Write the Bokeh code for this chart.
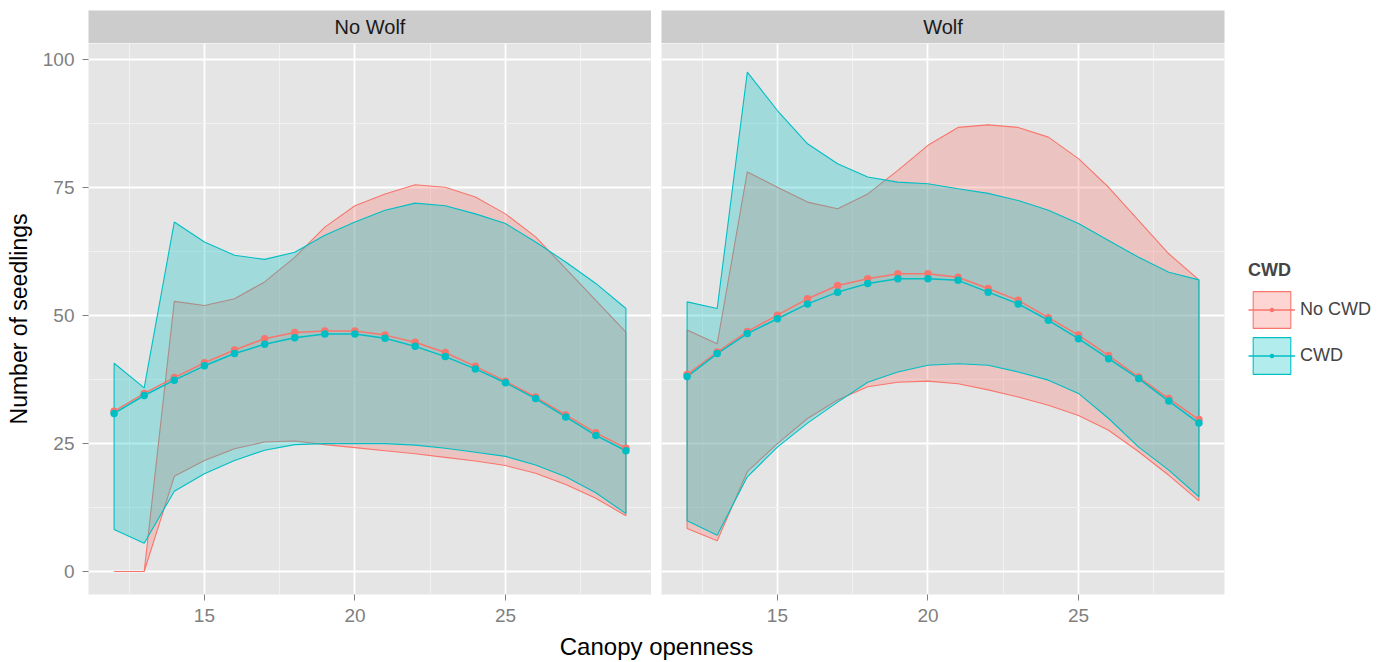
from bokeh.plotting import figure
from bokeh.layouts import column, row
from bokeh.models import Range1d, FixedTicker, Label, Legend, LegendItem
from bokeh.embed import file_html
from bokeh.resources import INLINE

FONT = "Liberation Sans"
RED = "#F8766D"
TEAL = "#00BFC4"

# ---------------- data ----------------
canopy = list(range(12, 30))
panels = ["No Wolf", "Wolf"]
groups = ["No CWD", "CWD"]

# No Wolf panel
nowolf_nocwd_mean = [31.3, 34.8, 37.9, 40.8, 43.3, 45.5, 46.7, 47.0, 47.0, 46.2, 44.8, 42.8, 40.1, 37.2, 34.1, 30.6, 27.1, 24.1]
nowolf_nocwd_upper = [0.0, 0.0, 52.8, 52.0, 53.3, 56.6, 61.4, 67.3, 71.5, 73.8, 75.6, 75.1, 73.2, 69.9, 65.4, 59.2, 53.0, 46.8]
nowolf_nocwd_lower = [0.0, 0.0, 18.6, 21.7, 24.0, 25.3, 25.5, 24.8, 24.2, 23.6, 23.0, 22.3, 21.6, 20.7, 19.2, 17.0, 14.3, 10.9]
nowolf_cwd_mean = [30.9, 34.4, 37.4, 40.2, 42.6, 44.4, 45.7, 46.4, 46.4, 45.6, 44.0, 42.0, 39.6, 36.9, 33.8, 30.2, 26.6, 23.6]
nowolf_cwd_upper = [40.7, 35.9, 68.3, 64.4, 61.8, 61.0, 62.4, 65.7, 68.3, 70.6, 72.0, 71.5, 69.9, 68.0, 64.4, 60.5, 56.3, 51.4]
nowolf_cwd_lower = [8.2, 5.5, 15.7, 19.1, 21.7, 23.7, 24.8, 25.0, 25.0, 25.0, 24.7, 24.1, 23.3, 22.5, 20.8, 18.5, 15.4, 11.3]

# Wolf panel
wolf_nocwd_mean = [38.5, 42.9, 46.9, 50.1, 53.3, 55.9, 57.2, 58.2, 58.2, 57.5, 55.3, 53.0, 49.6, 46.2, 42.2, 38.0, 33.8, 29.7]
wolf_nocwd_upper = [47.2, 44.5, 78.1, 75.1, 72.2, 70.9, 73.8, 78.4, 83.3, 86.8, 87.3, 86.8, 84.9, 80.7, 75.1, 68.6, 62.1, 57.0]
wolf_nocwd_lower = [8.4, 6.0, 19.5, 25.0, 29.9, 33.5, 36.1, 37.0, 37.2, 36.7, 35.5, 34.1, 32.5, 30.5, 27.6, 23.4, 18.8, 13.8]
wolf_cwd_mean = [38.1, 42.6, 46.5, 49.4, 52.3, 54.6, 56.3, 57.2, 57.2, 56.9, 54.6, 52.3, 49.1, 45.5, 41.6, 37.7, 33.3, 29.0]
wolf_cwd_upper = [52.7, 51.4, 97.6, 90.1, 83.6, 79.7, 77.1, 76.1, 75.8, 74.8, 73.9, 72.5, 70.6, 68.0, 64.7, 61.4, 58.5, 57.0]
wolf_cwd_lower = [9.9, 7.1, 18.5, 24.3, 29.0, 33.1, 37.0, 39.0, 40.3, 40.6, 40.3, 39.0, 37.4, 34.8, 29.9, 24.3, 19.8, 14.6]

x_ticks = [15, 20, 25]
x_minor = [12.5, 17.5, 22.5, 27.5]
y_ticks = [0, 25, 50, 75, 100]
y_minor = [12.5, 37.5, 62.5, 87.5]

series = {
    "No Wolf": [
        ("No CWD", RED, nowolf_nocwd_mean, nowolf_nocwd_lower, nowolf_nocwd_upper),
        ("CWD", TEAL, nowolf_cwd_mean, nowolf_cwd_lower, nowolf_cwd_upper),
    ],
    "Wolf": [
        ("No CWD", RED, wolf_nocwd_mean, wolf_nocwd_lower, wolf_nocwd_upper),
        ("CWD", TEAL, wolf_cwd_mean, wolf_cwd_lower, wolf_cwd_upper),
    ],
}

# ---------------- layout constants ----------------
FW, FH = 563, 551
LEFT_B, GAP, RIGHT_B = 88, 10, 156
BOTTOM_B = 36

x_range = Range1d(11.15, 29.85)
y_range = Range1d(-4.5, 103.2)


def make_strip(text, left_b, right_b):
    s = figure(frame_width=FW, frame_height=33, min_border_left=left_b, min_border_right=right_b,
               min_border_top=10, min_border_bottom=0, x_range=(0, 1), y_range=(0, 1),
               x_axis_location=None, y_axis_location=None, toolbar_location=None,
               output_backend="svg", background_fill_color="#CCCCCC",
               border_fill_color="white", outline_line_color=None)
    s.grid.visible = False
    s.add_layout(Label(x=0.5, y=0.5, text=text, text_align="center", text_baseline="middle",
                       text_font=FONT, text_font_size="20px", text_color="#1A1A1A"))
    return s


def make_panel(name, left_b, right_b, show_y):
    p = figure(frame_width=FW, frame_height=FH, min_border_left=left_b, min_border_right=right_b,
               min_border_top=0, min_border_bottom=BOTTOM_B, x_range=x_range, y_range=y_range,
               y_axis_location="left" if show_y else None, toolbar_location=None,
               output_backend="svg", background_fill_color="#E5E5E5",
               border_fill_color="white", outline_line_color=None)
    for g in p.xgrid:
        g.ticker = FixedTicker(ticks=x_ticks, minor_ticks=x_minor)
    for g in p.ygrid:
        g.ticker = FixedTicker(ticks=y_ticks, minor_ticks=y_minor)
    p.grid.grid_line_color = "white"
    p.grid.grid_line_width = 1.8
    p.grid.minor_grid_line_color = "#F2F2F2"
    p.grid.minor_grid_line_width = 0.9
    p.xaxis.ticker = FixedTicker(ticks=x_ticks)
    axes = list(p.xaxis) + (list(p.yaxis) if show_y else [])
    if show_y:
        p.yaxis.ticker = FixedTicker(ticks=y_ticks)
        p.yaxis.axis_label = "Number of seedlings"
    for ax in axes:
        ax.axis_line_color = None
        ax.major_tick_line_color = "#7F7F7F"
        ax.major_tick_in = 0
        ax.major_tick_out = 6
        ax.minor_tick_line_color = None
        ax.major_label_text_font = FONT
        ax.major_label_text_font_size = "19px"
        ax.major_label_text_color = "#7F7F7F"
        ax.major_label_standoff = 8
        ax.axis_label_text_font = FONT
        ax.axis_label_text_font_size = "23px"
        ax.axis_label_text_font_style = "normal"
        ax.axis_label_text_color = "black"
        ax.axis_label_standoff = 8

    rends = {}
    # ribbons
    for grp, col, mean, lo, up in series[name]:
        xs = canopy + canopy[::-1]
        ys = up + lo[::-1]
        r = p.patch(xs, ys, fill_color=col, fill_alpha=0.3, line_color=col, line_width=1.1)
        rends.setdefault(grp, []).append(r)
    # mean lines
    for grp, col, mean, lo, up in series[name]:
        r = p.line(canopy, mean, line_color=col, line_width=1.5)
        rends[grp].append(r)
    # points ("dot" marker: drawn diameter is a quarter of size)
    for grp, col, mean, lo, up in series[name]:
        r = p.scatter(canopy, mean, marker="dot", size=30, line_color=col, fill_color=col)
        rends[grp].append(r)
    return p, rends


strip_l = make_strip("No Wolf", LEFT_B, 0)
strip_r = make_strip("Wolf", GAP, RIGHT_B)
p_l, _ = make_panel("No Wolf", LEFT_B, 0, True)
p_r, rends = make_panel("Wolf", GAP, RIGHT_B, False)

legend = Legend(items=[LegendItem(label=g, renderers=rends[g]) for g in groups],
                title="CWD", location="center_left", orientation="vertical",
                glyph_width=47, glyph_height=46, spacing=0, padding=6, margin=24,
                label_standoff=5, label_text_font=FONT, label_text_font_size="18px",
                title_text_font=FONT, title_text_font_size="18px", title_text_font_style="bold",
                title_standoff=6, border_line_color=None, background_fill_alpha=0,
                label_height=46)
p_r.add_layout(legend, "right")

xlab = figure(frame_width=FW * 2 + GAP, frame_height=32, min_border_left=LEFT_B,
              min_border_right=RIGHT_B, min_border_top=0, min_border_bottom=0,
              x_range=(0, 1), y_range=(0, 1), x_axis_location=None, y_axis_location=None,
              toolbar_location=None, output_backend="svg", background_fill_color="white",
              border_fill_color="white", outline_line_color=None)
xlab.grid.visible = False
xlab.add_layout(Label(x=0.5, y=0.5, text="Canopy openness", text_align="center",
                      text_baseline="middle", text_font=FONT, text_font_size="24px",
                      text_color="black"))

layout = column(row(strip_l, strip_r), row(p_l, p_r), xlab)

open("out.html", "w").write(file_html(layout, INLINE))
